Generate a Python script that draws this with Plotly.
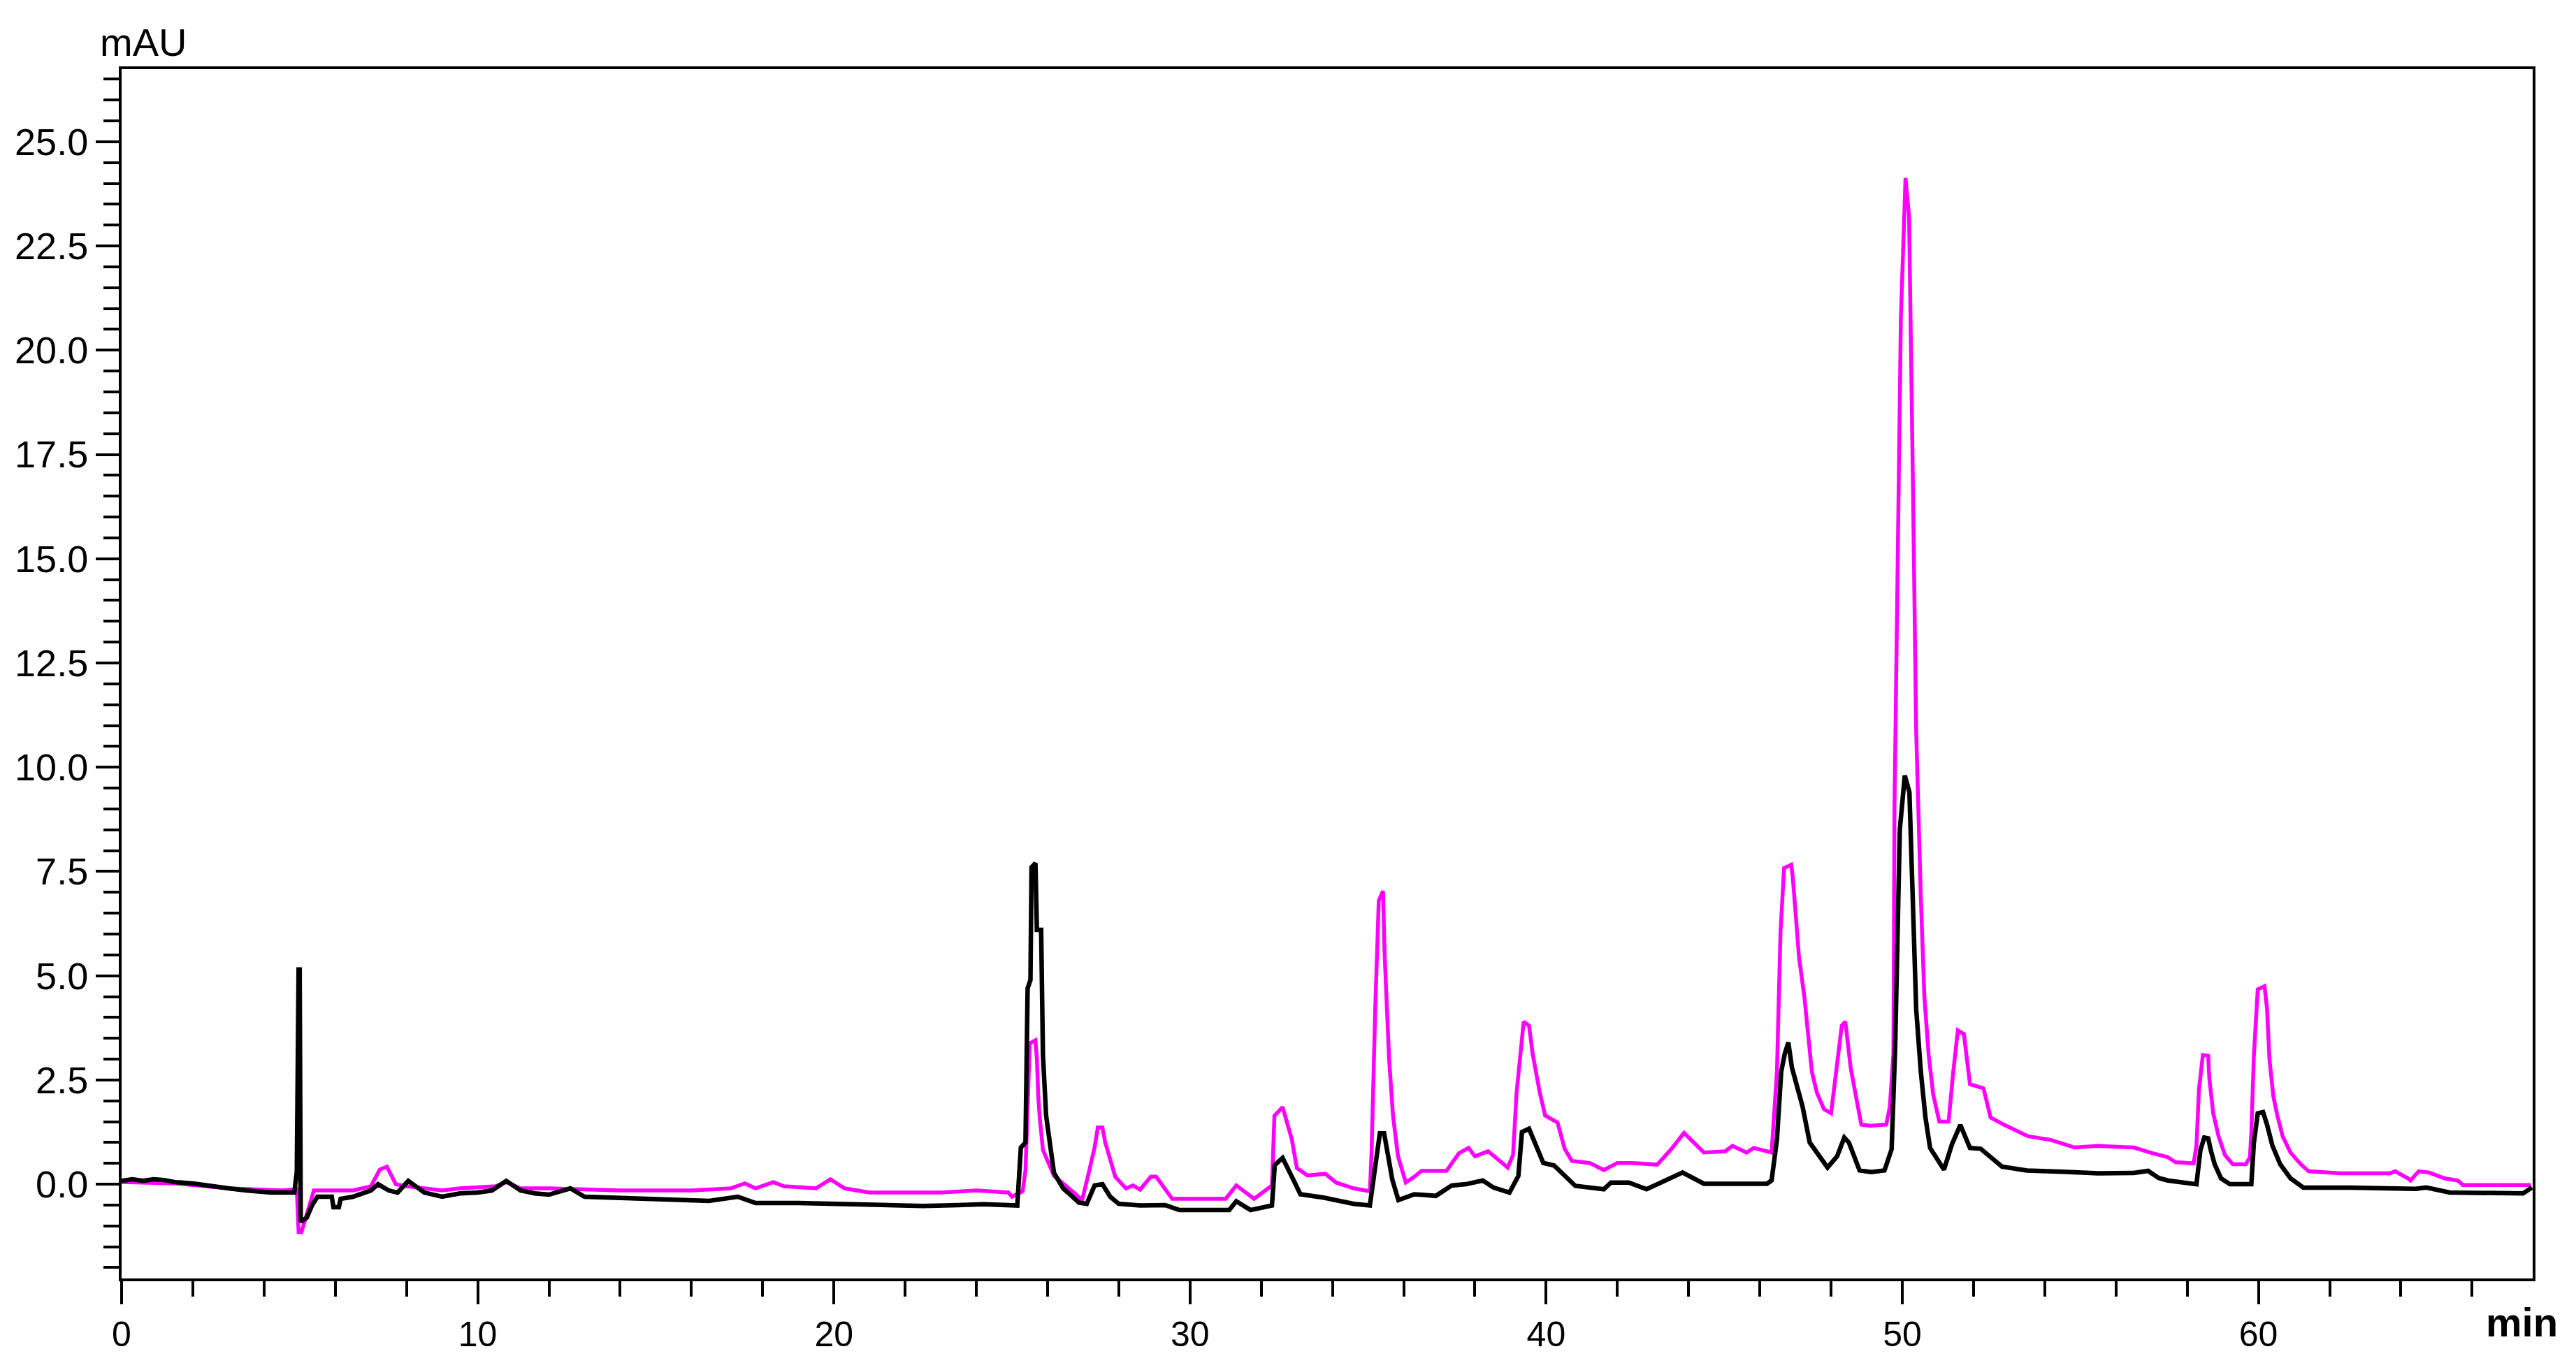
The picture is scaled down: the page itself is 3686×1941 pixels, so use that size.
import plotly.graph_objects as go

# retention time (min) / absorbance (mAU)
black_t = [0.0, 0.3, 0.6, 0.9, 1.2, 1.5, 2.0, 2.5, 3.0, 3.5, 4.2, 4.85, 4.92, 4.97, 5.0, 5.03,
           5.2, 5.35, 5.5, 5.9, 5.95, 6.1, 6.15, 6.5, 7.0, 7.2, 7.5, 7.75, 8.05, 8.5, 9.0, 9.5,
           10.0, 10.4, 10.8, 11.2, 11.6, 12.0, 12.6, 13.0, 14.0, 15.0, 16.5, 17.3, 17.8, 19.0,
           20.0, 21.0, 22.5, 23.5, 24.2, 25.15, 25.25, 25.38, 25.44, 25.52, 25.55, 25.66, 25.7,
           25.82, 25.87, 25.96, 26.09, 26.18, 26.44, 26.88, 27.1, 27.32, 27.54, 27.76, 28.0, 28.6,
           29.3, 29.7, 31.1, 31.3, 31.7, 32.3, 32.38, 32.6, 32.86, 33.1, 33.75, 34.6, 35.05, 35.2,
           35.33, 35.45, 35.5, 35.68, 35.85, 36.3, 36.9, 37.35, 37.75, 38.22, 38.52, 38.97, 39.22,
           39.32, 39.52, 39.72, 39.92, 40.22, 40.52, 40.82, 41.62, 41.82, 42.32, 42.82, 43.83,
           44.43, 46.2, 46.33, 46.48, 46.6, 46.7, 46.8, 46.9, 47.05, 47.2, 47.4, 47.66, 47.9,
           48.17, 48.37, 48.5, 48.8, 49.13, 49.5, 49.7, 49.8, 49.93, 50.07, 50.2, 50.29, 50.39,
           50.52, 50.65, 50.78, 51.17, 51.4, 51.63, 51.9, 52.2, 52.8, 53.5, 54.5, 55.5, 56.5,
           56.9, 57.2, 57.45, 58.26, 58.37, 58.48, 58.59, 58.66, 58.77, 58.95, 59.2, 59.8, 59.87,
           59.98, 60.13, 60.24, 60.39, 60.61, 60.9, 61.26, 62.58, 64.42, 64.71, 65.37, 67.43, 67.68]
black_v = [0.08, 0.12, 0.08, 0.12, 0.1, 0.05, 0.02, -0.05, -0.1, -0.15, -0.2, -0.2, 0.3, 5.15, 5.15, -0.9,
           -0.8, -0.5, -0.3, -0.3, -0.55, -0.55, -0.35, -0.3, -0.15, 0.0, -0.15, -0.2, 0.08, -0.2, -0.3, -0.22,
           -0.2, -0.15, 0.08, -0.15, -0.22, -0.25, -0.1, -0.3, -0.33, -0.35, -0.4, -0.3, -0.45, -0.45,
           -0.47, -0.5, -0.52, -0.5, -0.48, -0.51, 0.88, 1.0, 4.7, 4.9, 7.6, 7.7, 6.1,
           6.1, 3.1, 1.64, 0.82, 0.27, -0.1, -0.44, -0.47, -0.03, 0.0, -0.3, -0.47, -0.51,
           -0.5, -0.62, -0.62, -0.41, -0.62, -0.51, 0.46, 0.63, 0.18, -0.24, -0.32, -0.47, -0.51, 0.39,
           1.22, 1.22, 0.96, 0.11, -0.38, -0.24, -0.28, -0.03, 0.0, 0.09, -0.08, -0.2, 0.2,
           1.25, 1.33, 0.92, 0.51, 0.45, 0.2, -0.04, -0.12, 0.04, 0.04, -0.12, 0.28,
           0.01, 0.01, 0.09, 1.07, 2.7, 3.13, 3.4, 2.8, 2.37, 1.86, 1.0, 0.67, 0.4,
           0.67, 1.12, 1.0, 0.33, 0.29, 0.33, 0.84, 3.3, 8.5, 9.8, 9.4, 7.0, 4.2,
           2.7, 1.6, 0.87, 0.35, 0.97, 1.42, 0.87, 0.85, 0.42, 0.33, 0.3, 0.26, 0.27,
           0.32, 0.15, 0.09, 0.0, 0.82, 1.12, 1.1, 0.82, 0.48, 0.14, 0.0, 0.0, 0.98,
           1.7, 1.73, 1.43, 0.93, 0.48, 0.14, -0.08, -0.08, -0.11, -0.08, -0.2, -0.22, -0.08]

magenta_t = [0.0, 1.5, 3.0, 4.5, 4.92, 4.97, 5.05, 5.2, 5.4, 6.5, 7.0, 7.25, 7.45, 7.7, 8.0, 9.0,
             9.5, 10.5, 10.8, 11.2, 12.0, 14.0, 16.0, 17.1, 17.5, 17.8, 18.3, 18.6, 19.5, 19.9,
             20.3, 21.0, 23.0, 24.0, 24.9, 25.0, 25.3, 25.38, 25.5, 25.66, 25.7, 25.74, 25.78,
             25.87, 26.18, 26.7, 26.97, 27.15, 27.32, 27.41, 27.54, 27.62, 27.8, 27.9, 28.2, 28.4,
             28.6, 28.9, 29.05, 29.3, 29.5, 31.0, 31.3, 31.8, 32.3, 32.37, 32.6, 32.86, 33.0, 33.3,
             33.8, 34.1, 34.6, 35.05, 35.1, 35.2, 35.3, 35.42, 35.46, 35.59, 35.7, 35.84, 36.06,
             36.3, 36.5, 37.2, 37.55, 37.82, 38.0, 38.37, 38.92, 39.07, 39.17, 39.37, 39.52, 39.62,
             39.82, 39.97, 40.32, 40.52, 40.72, 41.22, 41.62, 42.0, 42.42, 43.12, 43.52, 43.87,
             44.43, 45.03, 45.23, 45.63, 45.83, 46.33, 46.48, 46.58, 46.68, 46.88, 46.92, 47.0,
             47.1, 47.25, 47.36, 47.46, 47.6, 47.8, 48.0, 48.15, 48.3, 48.4, 48.55, 48.7, 48.85,
             49.1, 49.55, 49.65, 49.75, 49.78, 49.96, 50.09, 50.19, 50.29, 50.39, 50.52, 50.62,
             50.74, 50.87, 51.04, 51.3, 51.43, 51.56, 51.73, 51.9, 52.28, 52.48, 52.87, 53.53,
             54.18, 54.84, 55.5, 56.5, 57.0, 57.45, 57.67, 58.18, 58.26, 58.33, 58.44, 58.59,
             58.62, 58.73, 58.88, 59.06, 59.28, 59.65, 59.76, 59.8, 59.87, 59.98, 60.17, 60.24,
             60.31, 60.42, 60.53, 60.68, 60.9, 61.19, 61.41, 62.3, 63.69, 63.84, 64.2, 64.27, 64.5,
             64.79, 65.23, 65.6, 65.74, 67.65]
magenta_v = [0.05, 0.02, -0.1, -0.15, -0.12, -1.15, -1.15, -0.7, -0.15, -0.15, -0.05, 0.35, 0.42, 0.0, -0.05, -0.15,
             -0.1, -0.05, 0.05, -0.1, -0.1, -0.15, -0.15, -0.1, 0.02, -0.1, 0.05, -0.05, -0.1, 0.12,
             -0.1, -0.2, -0.2, -0.15, -0.2, -0.3, -0.17, 0.33, 3.38, 3.45, 3.0, 2.1, 1.6,
             0.82, 0.2, -0.17, -0.38, 0.25, 0.88, 1.36, 1.36, 1.0, 0.46, 0.18, -0.1, -0.03,
             -0.13, 0.18, 0.18, -0.1, -0.35, -0.35, -0.03, -0.35, -0.03, 1.64, 1.85, 1.07, 0.39, 0.21,
             0.25, 0.04, -0.1, -0.17, 0.82, 4.2, 6.8, 7.03, 5.6, 3.0, 1.64, 0.67, 0.04,
             0.18, 0.32, 0.32, 0.74, 0.87, 0.67, 0.79, 0.4, 0.7, 2.2, 3.9, 3.8, 3.13,
             2.2, 1.65, 1.48, 0.85, 0.56, 0.51, 0.34, 0.51, 0.51, 0.47, 0.85, 1.23,
             0.76, 0.79, 0.92, 0.76, 0.87, 0.76, 2.7, 6.04, 7.58, 7.66, 7.4, 6.55,
             5.44, 4.5, 3.5, 2.7, 2.2, 1.8, 1.7, 2.7, 3.8, 3.9, 2.8, 2.1, 1.43,
             1.4, 1.43, 1.86, 3.13, 8.96, 20.77, 24.13, 23.22, 17.3, 10.87, 6.87, 4.5,
             3.1, 2.14, 1.5, 1.5, 2.69, 3.69, 3.6, 2.4, 2.3, 1.6, 1.42, 1.15,
             1.06, 0.88, 0.92, 0.88, 0.75, 0.65, 0.53, 0.5, 0.93, 2.27, 3.1, 3.08,
             2.55, 1.7, 1.15, 0.7, 0.48, 0.48, 0.65, 1.23, 3.05, 4.67, 4.75, 4.22,
             2.99, 2.1, 1.65, 1.15, 0.76, 0.48, 0.31, 0.26, 0.26, 0.31, 0.14, 0.09, 0.31,
             0.28, 0.14, 0.09, -0.02, -0.02]

font = "Arial, Liberation Sans, sans-serif"

fig = go.Figure()
fig.add_trace(go.Scatter(x=magenta_t, y=magenta_v, mode="lines",
                         line=dict(color="#FF00FF", width=5.5)))
fig.add_trace(go.Scatter(x=black_t, y=black_v, mode="lines",
                         line=dict(color="black", width=6.5)))

fig.update_layout(
    width=3686, height=1941,
    margin=dict(l=166, r=70, t=91, b=119),
    paper_bgcolor="white", plot_bgcolor="white",
    showlegend=False,
    xaxis=dict(range=[0, 67.7], showgrid=False, zeroline=False, automargin=False,
               showline=True, linecolor="black", linewidth=4, mirror=True,
               ticks="outside", ticklen=33, tickwidth=4, tickcolor="black",
               tick0=0, dtick=10,
               minor=dict(ticks="outside", ticklen=22, tickwidth=4, tickcolor="black", dtick=2, showgrid=False),
               tickfont=dict(family=font, size=50, color="black")),
    yaxis=dict(range=[-2.26, 26.74], showgrid=False, zeroline=False, automargin=False,
               showline=True, linecolor="black", linewidth=4, mirror=True,
               ticks="outside", ticklen=33, tickwidth=4, tickcolor="black",
               tick0=0, dtick=2.5, tickformat=".1f",
               minor=dict(ticks="outside", ticklen=22, tickwidth=4, tickcolor="black", dtick=0.5, showgrid=False),
               tickfont=dict(family=font, size=54, color="black")),
    annotations=[
        dict(text="mAU", xref="paper", yref="paper", x=0.009, y=1.022,
             xanchor="center", yanchor="middle", showarrow=False,
             font=dict(family=font, size=56, color="black")),
        dict(text="<b>min</b>", xref="paper", yref="paper", x=0.9955, y=-0.036,
             xanchor="center", yanchor="middle", showarrow=False,
             font=dict(family=font, size=58, color="black")),
    ],
)

fig.write_html("out.html")
